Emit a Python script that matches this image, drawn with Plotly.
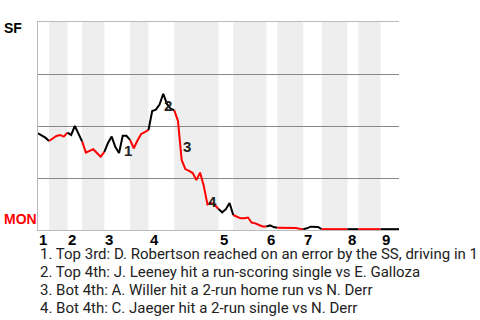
import plotly.graph_objects as go

# Win probability for SF after each play (0 = MON wins, 1 = SF wins)
wp = [
    0.465, 0.455, 0.444, 0.428, 0.438, 0.452, 0.457, 0.449, 0.468, 0.457,
    0.500, 0.462, 0.425, 0.372, 0.380, 0.388, 0.370, 0.352, 0.376, 0.418,
    0.449, 0.399, 0.370, 0.453, 0.453, 0.433, 0.393, 0.430, 0.462, 0.471,
    0.481, 0.572, 0.579, 0.603, 0.655, 0.606, 0.584, 0.575, 0.524, 0.337,
    0.293, 0.284, 0.274, 0.240, 0.276, 0.212, 0.123, 0.130, 0.120, 0.101,
    0.085, 0.100, 0.130, 0.072, 0.065, 0.056, 0.056, 0.060, 0.036, 0.032,
    0.024, 0.017, 0.017, 0.022, 0.014, 0.011, 0.011, 0.011, 0.011, 0.011,
    0.010, 0.006, 0.004, 0.008, 0.016, 0.016, 0.015, 0.004, 0.004, 0.004,
    0.004, 0.004, 0.004, 0.004, 0.004, 0.004, 0.004, 0.004, 0.004, 0.004,
    0.004, 0.004, 0.004, 0.004, 0.004, 0.004, 0.004, 0.004, 0.004,
]

# Number of plays in each half inning (top 1, bottom 1, top 2, ...)
half_counts = [3, 5, 4, 6, 7, 5, 7, 12, 4, 9, 3, 7, 5, 7, 3, 6, 5]
inning_labels = ["1", "2", "3", "4", "5", "6", "7", "8", "9"]

# Key events: play index after the event, and description
event_plays = [23, 34, 39, 46]
event_notes = [
    "1. Top 3rd: D. Robertson reached on an error by the SS, driving in 1",
    "2. Top 4th: J. Leeney hit a run-scoring single vs E. Galloza",
    "3. Bot 4th: A. Willer hit a 2-run home run vs N. Derr",
    "4. Bot 4th: C. Jaeger hit a 2-run single vs N. Derr",
]

away_team = "SF"
home_team = "MON"

# half-inning boundaries in play index
bounds = [0]
for c in half_counts:
    bounds.append(bounds[-1] + c)
n_plays = bounds[-1]

fig = go.Figure()

shapes = []
for k in range(len(half_counts)):
    if k % 2 == 1:
        shapes.append(dict(type="rect", xref="x", yref="paper",
                           x0=bounds[k], x1=bounds[k + 1], y0=0, y1=1,
                           fillcolor="#eeeeee", line=dict(width=0), layer="below"))

for k in range(len(half_counts)):
    xs = list(range(bounds[k], bounds[k + 1] + 1))
    ys = wp[bounds[k]:bounds[k + 1] + 1]
    fig.add_trace(go.Scatter(
        x=xs, y=ys, mode="lines",
        line=dict(color="#000000" if k % 2 == 0 else "#ff0000", width=2),
        hoverinfo="skip", showlegend=False))

bold_font = "Liberation Sans, Arial, sans-serif"
annotations = []
# Event number labels on the chart
for i, p in enumerate(event_plays):
    annotations.append(dict(
        x=p, y=(wp[p - 1] + wp[p]) / 2, xref="x", yref="y",
        text="<b>" + str(i + 1) + "</b>", showarrow=False,
        xanchor="left", yanchor="top", yshift=3,
        font=dict(family=bold_font, size=15, color="#222222"),
        borderpad=0))

# Inning labels below the axis
for j, lab in enumerate(inning_labels):
    annotations.append(dict(
        x=bounds[2 * j], y=0, xref="x", yref="paper",
        text="<b>" + lab + "</b>", showarrow=False, xanchor="left", yanchor="top",
        font=dict(family=bold_font, size=15, color="#000000"),
        borderpad=0))

# Team labels
annotations.append(dict(
    x=0, y=0.97, xref="paper", yref="paper", text="<b>" + away_team + "</b>",
    showarrow=False, xanchor="left", yanchor="middle", xshift=-36,
    font=dict(family=bold_font, size=14, color="#000000")))
annotations.append(dict(
    x=0, y=0.052, xref="paper", yref="paper", text="<b>" + home_team + "</b>",
    showarrow=False, xanchor="left", yanchor="middle", xshift=-36,
    font=dict(family=bold_font, size=14, color="#ff0000")))

# Notes below chart, one line each
for i, note in enumerate(event_notes):
    annotations.append(dict(
        x=0, y=0, xref="paper", yref="paper", text=note,
        showarrow=False, xanchor="left", yanchor="middle", align="left",
        xshift=1, yshift=-(23.5 + 18.3 * i), borderpad=0,
        font=dict(family="Roboto, sans-serif", size=15, color="#222222")))

fig.update_layout(
    width=480, height=320,
    margin=dict(l=38, r=81, t=22, b=90),
    paper_bgcolor="white", plot_bgcolor="white",
    shapes=shapes, annotations=annotations,
    xaxis=dict(range=[0, n_plays], showgrid=False, zeroline=False,
               showticklabels=False, ticks="", showline=True,
               linecolor="#bbbbbb", linewidth=1, mirror=True),
    yaxis=dict(range=[0, 1], tickvals=[0.25, 0.5, 0.75], showgrid=True,
               gridcolor="#888888", gridwidth=1, zeroline=False,
               showticklabels=False, ticks="", showline=True,
               linecolor="#bbbbbb", linewidth=1),
)

fig.write_html("out.html")
